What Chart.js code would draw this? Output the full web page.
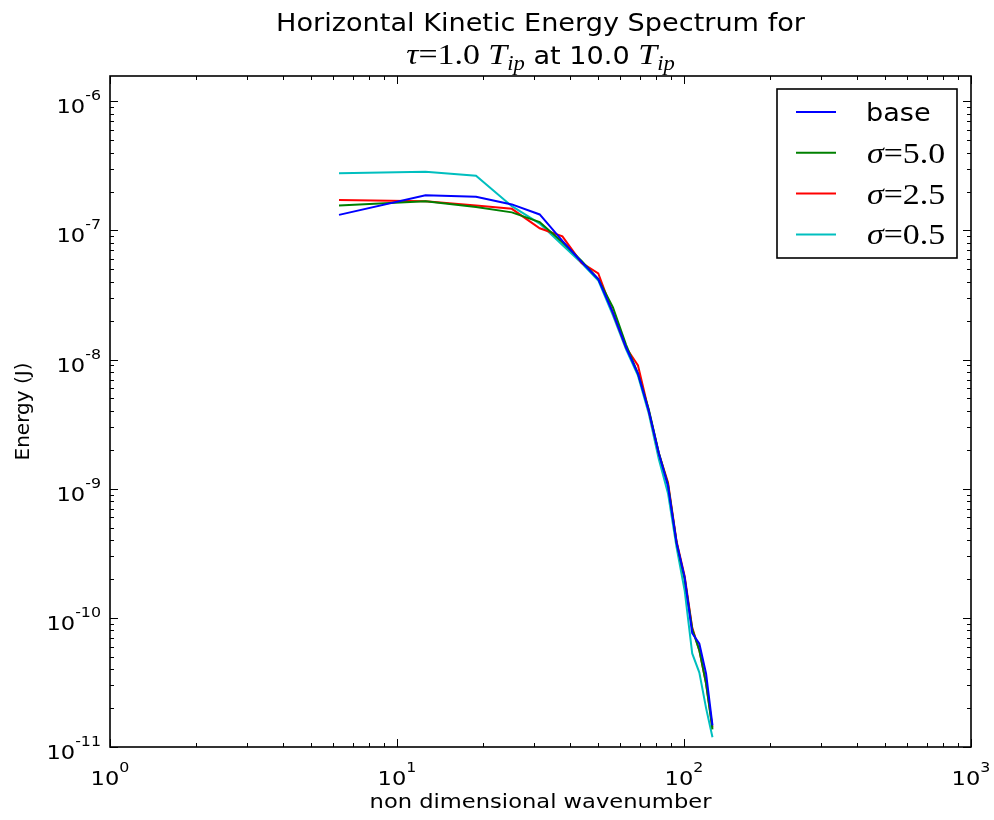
<!DOCTYPE html>
<html>
<head>
<meta charset="utf-8">
<script src="https://cdn.jsdelivr.net/npm/chart.js@4.4.0/dist/chart.umd.min.js"></script>
<style>
  body { margin: 0; background: #fff; }
  #wrap { width: 994px; height: 820px; position: relative; }
</style>
</head>
<body>
<div id="wrap"><canvas id="spectrum"></canvas></div>
<script>
// Wavenumbers (x) and energies (y)
const wavenumbers = [6.28, 12.57, 18.85, 25.13, 31.42, 37.70, 43.98, 50.27, 56.55, 62.83,
  69.12, 75.40, 81.68, 87.96, 94.25, 100.53, 106.81, 113.10, 119.38, 125.66];

const energyBase = [1.32e-7, 1.87e-7, 1.82e-7, 1.59e-7, 1.33e-7, 8.3e-8, 5.7e-8, 4.2e-8, 2.3e-8, 1.24e-8,
  7.8e-9, 4.0e-9, 1.88e-9, 1.05e-9, 3.8e-10, 2.06e-10, 7.6e-11, 6.3e-11, 3.7e-11, 1.47e-11];
const energySigma50 = [1.56e-7, 1.68e-7, 1.52e-7, 1.38e-7, 1.16e-7, 8.1e-8, 5.8e-8, 4.2e-8, 2.54e-8, 1.3e-8,
  7.8e-9, 4.1e-9, 1.9e-9, 1.08e-9, 3.8e-10, 2.0e-10, 8.2e-11, 5.6e-11, 3.1e-11, 1.37e-11];
const energySigma25 = [1.72e-7, 1.68e-7, 1.56e-7, 1.47e-7, 1.04e-7, 9.0e-8, 5.6e-8, 4.65e-8, 2.3e-8, 1.24e-8,
  9.0e-9, 4.0e-9, 1.88e-9, 1.12e-9, 3.9e-10, 2.1e-10, 8.4e-11, 5.6e-11, 3.1e-11, 1.42e-11];
const energySigma05 = [2.77e-7, 2.85e-7, 2.65e-7, 1.54e-7, 1.13e-7, 7.7e-8, 5.6e-8, 4.1e-8, 2.2e-8, 1.2e-8,
  7.5e-9, 3.8e-9, 1.7e-9, 9.2e-10, 3.5e-10, 1.63e-10, 5.3e-11, 3.77e-11, 2.0e-11, 1.19e-11];

const seriesLabels = ["base", "5.0", "2.5", "0.5"];
const seriesColors = ["#0000ff", "#008000", "#ff0000", "#00bfbf"];
const seriesValues = [energyBase, energySigma50, energySigma25, energySigma05];

const xDecades = [0, 1, 2, 3];
const yDecades = [-11, -10, -9, -8, -7, -6];

// reference image is a bit stretched sideways
const SX = 1.13;
const SANS = '"DejaVu Sans", sans-serif';
const SERIF = '"Liberation Serif", "DejaVu Serif", serif';

function textWidth(ctx, s, font) {
  ctx.font = font;
  return ctx.measureText(s).width * SX;
}

// draw a run of text pieces [{t, font, dy}] at baseline y
function drawRun(ctx, parts, x, y, align) {
  let total = 0;
  parts.forEach((p) => (total += textWidth(ctx, p.t, p.font)));
  let cx = align === "center" ? x - total / 2 : align === "right" ? x - total : x;
  parts.forEach((p) => {
    ctx.save();
    ctx.font = p.font;
    ctx.textAlign = "left";
    ctx.textBaseline = "alphabetic";
    ctx.translate(cx, y + (p.dy || 0));
    ctx.scale(SX, 1);
    ctx.fillText(p.t, 0, 0);
    ctx.restore();
    cx += textWidth(ctx, p.t, p.font);
  });
}

const matplotlibLook = {
  id: "matplotlibLook",
  beforeDraw(chart) {
    const ctx = chart.ctx;
    ctx.save();
    ctx.fillStyle = "#fff";
    ctx.fillRect(0, 0, chart.width, chart.height);
    ctx.restore();
  },
  afterDraw(chart) {
    const ctx = chart.ctx;
    const a = chart.chartArea;
    const xs = chart.scales.x;
    const ys = chart.scales.y;
    ctx.save();
    ctx.strokeStyle = "#000";
    ctx.fillStyle = "#000";

    // ticks, inward on all four sides
    ctx.lineWidth = 1;
    ctx.beginPath();
    xDecades.forEach((d) => {
      for (let m = 1; m <= 9; m++) {
        const v = m * Math.pow(10, d);
        if (v < xs.min || v > xs.max) continue;
        const px = Math.round(xs.getPixelForValue(v)) + 0.5;
        const len = m === 1 ? 8 : 4;
        ctx.moveTo(px, a.bottom); ctx.lineTo(px, a.bottom - len);
        ctx.moveTo(px, a.top); ctx.lineTo(px, a.top + len);
      }
    });
    yDecades.forEach((d) => {
      for (let m = 1; m <= 9; m++) {
        const v = m * Math.pow(10, d);
        if (v < ys.min || v > ys.max) continue;
        const py = Math.round(ys.getPixelForValue(v)) + 0.5;
        const len = m === 1 ? 8 : 4;
        ctx.moveTo(a.left, py); ctx.lineTo(a.left + len, py);
        ctx.moveTo(a.right, py); ctx.lineTo(a.right - len, py);
      }
    });
    ctx.stroke();

    // axes box
    ctx.lineWidth = 1.6;
    ctx.strokeRect(a.left, a.top, a.right - a.left, a.bottom - a.top);

    // tick labels
    const base = "20px " + SANS;
    const sup = "14px " + SANS;
    xDecades.forEach((d) => {
      const px = xs.getPixelForValue(Math.pow(10, d));
      drawRun(ctx, [{ t: "10", font: base }, { t: String(d), font: sup, dy: -13 }], px, a.bottom + 38, "center");
    });
    yDecades.forEach((d) => {
      const py = ys.getPixelForValue(Math.pow(10, d));
      drawRun(ctx, [{ t: "10", font: base }, { t: String(d), font: sup, dy: -13 }], a.left - 9, py + 12, "right");
    });

    // axis titles
    drawRun(ctx, [{ t: "non dimensional wavenumber", font: "20px " + SANS }], (a.left + a.right) / 2, 808, "center");
    ctx.save();
    ctx.translate(29, (a.top + a.bottom) / 2);
    ctx.rotate(-Math.PI / 2);
    ctx.font = "20px " + SANS;
    ctx.textAlign = "center";
    ctx.fillText("Energy (J)", 0, 0);
    ctx.restore();

    // title
    const cx = (a.left + a.right) / 2;
    drawRun(ctx, [{ t: "Horizontal Kinetic Energy Spectrum for", font: "24px " + SANS }], cx, 31, "center");
    const it = "italic 30px " + SERIF;
    const rm = "30px " + SERIF;
    const sub = "italic 20px " + SERIF;
    drawRun(ctx, [
      { t: "\u03c4", font: it }, { t: "=1.0 ", font: rm },
      { t: "T", font: it }, { t: "ip", font: sub, dy: 6 },
      { t: " at 10.0 ", font: "24px " + SANS },
      { t: "T", font: it }, { t: "ip", font: sub, dy: 6 },
    ], cx, 64, "center");

    // legend
    const lx = 777, ly = 89, lw = 180, lh = 169;
    ctx.fillStyle = "#fff";
    ctx.fillRect(lx, ly, lw, lh);
    ctx.lineWidth = 1.6;
    ctx.strokeStyle = "#000";
    ctx.strokeRect(lx, ly, lw, lh);
    ctx.fillStyle = "#000";
    chart.data.datasets.forEach((ds, i) => {
      const ry = 112 + i * 40.8;
      ctx.strokeStyle = ds.borderColor;
      ctx.lineWidth = 2;
      ctx.beginPath();
      ctx.moveTo(796, ry); ctx.lineTo(836, ry);
      ctx.stroke();
      if (i === 0) {
        drawRun(ctx, [{ t: seriesLabels[0], font: "24px " + SANS }], 866, ry + 9, "left");
      } else {
        drawRun(ctx, [
          { t: "\u03c3", font: "italic 30px " + SERIF },
          { t: "=" + seriesLabels[i], font: "30px " + SERIF },
        ], 867, ry + 10, "left");
      }
    });
    ctx.restore();
  },
};

const datasets = seriesValues.map((vals, i) => ({
  label: seriesLabels[i],
  data: wavenumbers.map((x, j) => ({ x: x, y: vals[j] })),
  borderColor: seriesColors[i],
  backgroundColor: seriesColors[i],
  borderWidth: 2,
  pointRadius: 0,
  tension: 0,
  fill: false,
}));

new Chart(document.getElementById("spectrum"), {
  type: "line",
  data: { datasets: datasets },
  plugins: [matplotlibLook],
  options: {
    responsive: true,
    maintainAspectRatio: false,
    animation: false,
    layout: { padding: { left: 110, right: 23, top: 76, bottom: 73 } },
    plugins: {
      legend: { display: false },
      title: { display: false },
      tooltip: { enabled: false },
    },
    scales: {
      x: {
        type: "logarithmic",
        min: 1,
        max: 1000,
        ticks: { display: false },
        grid: { display: false },
        border: { display: false },
        afterFit: (scale) => { scale.height = 0; },
      },
      y: {
        type: "logarithmic",
        min: 1e-11,
        max: 1.57e-6,
        ticks: { display: false },
        grid: { display: false },
        border: { display: false },
        afterFit: (scale) => { scale.width = 0; },
      },
    },
  },
});
</script>
</body>
</html>
